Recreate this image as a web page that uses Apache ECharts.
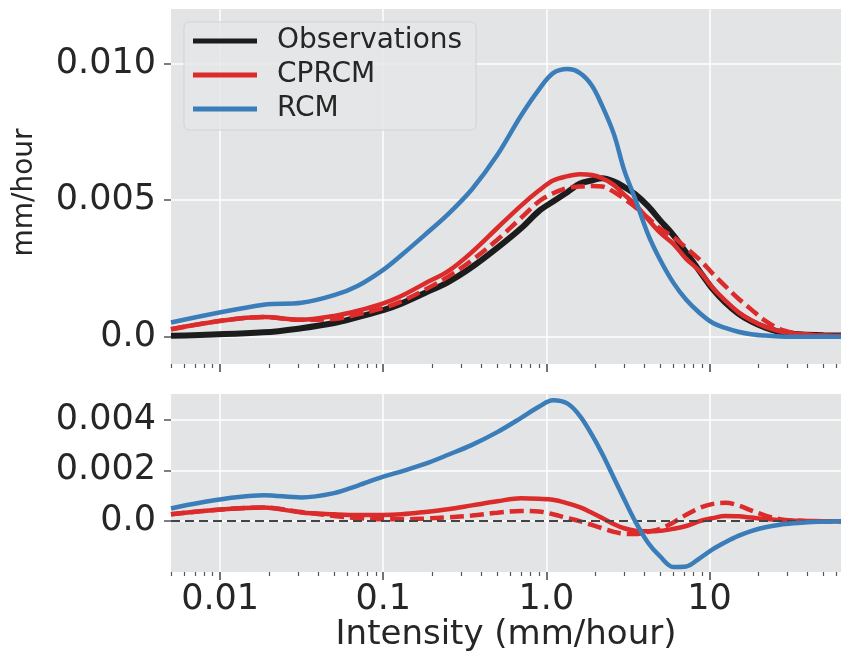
<!DOCTYPE html>
<html><head><meta charset="utf-8">
<script src="https://cdn.jsdelivr.net/npm/echarts@6/dist/echarts.min.js"></script>
<style>html,body{margin:0;padding:0;background:#fff}#c{width:841px;height:653px}</style>
</head><body><div id="c"></div>
<script>
// ---------- data ----------
const intensity = [0.005, 0.0185, 0.0315, 0.05, 0.07, 0.1, 0.13, 0.18, 0.25, 0.35, 0.5, 0.7, 0.9, 1.1, 1.35, 1.6, 1.9, 2.2, 2.6, 3.0, 3.5, 4.2, 5.0, 6.0, 7.2, 8.7, 10.5, 12.5, 15, 18, 22, 27, 33, 40, 50, 64];

// top panel (mm/hour)
const observations = [0.00003, 0.00016, 0.00031, 0.0005, 0.00072, 0.00097, 0.00122, 0.0016, 0.002, 0.00255, 0.00325, 0.00397, 0.0046, 0.00495, 0.0053, 0.0056, 0.00572, 0.0058, 0.00568, 0.00548, 0.00522, 0.00478, 0.00425, 0.00372, 0.00308, 0.0024, 0.00173, 0.00125, 0.00085, 0.00056, 0.00033, 0.00017, 0.0001, 0.00007, 0.00005, 0.00004];
const cprcm = [0.00027, 0.00072, 0.00062, 0.00076, 0.00095, 0.00122, 0.0015, 0.00195, 0.0024, 0.0031, 0.00398, 0.0048, 0.00535, 0.00572, 0.00588, 0.00595, 0.00592, 0.0058, 0.00555, 0.0052, 0.00485, 0.0043, 0.0038, 0.0034, 0.00285, 0.0024, 0.00178, 0.00132, 0.0009, 0.0006, 0.00036, 0.0002, 0.00012, 0.00007, 0.00004, 0.00003];
const cprcmAlt = [0.00027, 0.00072, 0.00062, 0.00065, 0.00082, 0.00105, 0.0013, 0.00172, 0.0022, 0.0028, 0.00355, 0.00435, 0.00495, 0.00525, 0.00545, 0.0055, 0.00552, 0.0055, 0.0053, 0.00505, 0.00475, 0.00435, 0.00395, 0.00365, 0.00325, 0.00282, 0.0023, 0.00185, 0.0014, 0.001, 0.00058, 0.00028, 0.00014, 0.00008, 0.00004, 0.00002];
const rcm = [0.00052, 0.00117, 0.00124, 0.00152, 0.00187, 0.00245, 0.003, 0.00373, 0.00449, 0.0054, 0.00665, 0.0081, 0.00905, 0.00965, 0.0098, 0.00966, 0.0092, 0.00845, 0.0074, 0.0061, 0.00505, 0.00375, 0.0028, 0.00198, 0.00135, 0.00087, 0.0005, 0.00032, 0.00018, 0.00009, 0.00004, 0.00001, 0, 0, 0, 0];

// bottom panel (difference to observations)
const rcmDiff = [0.0005, 0.00102, 0.00093, 0.0011, 0.0014, 0.00175, 0.00196, 0.00225, 0.00261, 0.003, 0.0035, 0.00406, 0.0045, 0.00475, 0.00462, 0.00415, 0.0034, 0.00265, 0.00169, 0.00086, 0, -0.00085, -0.0014, -0.0018, -0.00178, -0.00146, -0.0011, -0.00083, -0.00058, -0.00039, -0.00024, -0.00014, -0.00008, -0.00004, -0.00002, 0];
const cprcmDiff = [0.00027, 0.00054, 0.00034, 0.00027, 0.00024, 0.00024, 0.00027, 0.00036, 0.00047, 0.00062, 0.00078, 0.0009, 0.00088, 0.00084, 0.0007, 0.00055, 0.00033, 0.00012, -0.00012, -0.00028, -0.00038, -0.0004, -0.00038, -0.0003, -0.00019, 0, 0.00012, 0.0002, 0.00019, 0.00014, 0.00008, 0.00004, 0.00002, 0.00001, 0, 0];
const cprcmAltDiff = [0.00027, 0.00054, 0.00036, 0.0002, 0.00012, 0.00007, 0.00007, 0.0001, 0.00015, 0.00022, 0.00033, 0.0004, 0.00038, 0.00027, 0.00012, 0, -0.00015, -0.00028, -0.00042, -0.0005, -0.00051, -0.00042, -0.0003, -0.00005, 0.00025, 0.00052, 0.00068, 0.00072, 0.00062, 0.00042, 0.00022, 0.00008, 0.00002, 0, 0, 0];

// ticks
const xTicks = [0.01, 0.1, 1, 10];
const xTickLabels = ['0.01', '0.1', '1.0', '10'];
const xMinorTicks = [0.005, 0.006, 0.007, 0.008, 0.009, 0.02, 0.03, 0.04, 0.05, 0.06, 0.07, 0.08, 0.09, 0.2, 0.3, 0.4, 0.5, 0.6, 0.7, 0.8, 0.9, 2, 3, 4, 5, 6, 7, 8, 9, 20, 30, 40, 50, 60];
const topYTicks = [0, 0.005, 0.01];
const topYTickLabels = ['0.0', '0.005', '0.010'];
const botYTicks = [0, 0.002, 0.004];
const botYTickLabels = ['0.0', '0.002', '0.004'];

// ---------- chart ----------
const FONT = 'DejaVu Sans';
const TXT = '#262626';
const BG = '#e3e4e6';
const C_OBS = '#1c1c1c', C_CP = '#dc2b2b', C_RCM = '#3a7db8';
const HIDDEN_LINE = { show: true, onZero: false, lineStyle: { color: 'rgba(0,0,0,0)', width: 0 } };

function pairs(ys) { return intensity.map((x, i) => [x, ys[i]]); }
function lookup(ticks, labels, v, isLog) {
  for (let i = 0; i < ticks.length; i++) {
    if (isLog ? Math.abs(Math.log10(v) - Math.log10(ticks[i])) < 1e-6 : Math.abs(v - ticks[i]) < 1e-9) return labels[i];
  }
  return '';
}

function mainX(gi, withLabels) {
  return {
    type: 'log', logBase: 10, gridIndex: gi, min: 0.005, max: 64, position: 'bottom',
    axisLine: HIDDEN_LINE,
    axisTick: { show: true, customValues: xTicks, length: 8, lineStyle: { color: '#444', width: 1.5 } },
    axisLabel: {
      show: withLabels, customValues: xTicks,
      formatter: v => lookup(xTicks, xTickLabels, v, true),
      fontFamily: FONT, fontSize: 35, color: TXT, margin: 10
    },
    splitLine: { show: true, lineStyle: { color: '#ffffff', width: 1.5 } },
    name: withLabels ? 'Intensity (mm/hour)' : '',
    nameLocation: 'middle', nameGap: 43,
    nameTextStyle: { fontFamily: FONT, fontSize: 34, color: TXT }
  };
}
function minorX(gi) {
  return {
    type: 'log', logBase: 10, gridIndex: gi, min: 0.005, max: 64, position: 'bottom',
    axisLine: HIDDEN_LINE, axisLabel: { show: false }, splitLine: { show: false },
    axisTick: { show: true, customValues: xMinorTicks, length: 4, lineStyle: { color: '#555', width: 1.2 } }
  };
}
function yAx(gi, min, max, ticks, labels, name) {
  return {
    type: 'value', gridIndex: gi, min: min, max: max, position: 'left',
    axisLine: { show: true, onZero: false, lineStyle: { color: 'rgba(0,0,0,0)', width: 1 } },
    axisTick: { show: true, inside: false, customValues: ticks, length: 7, lineStyle: { color: '#555', width: 1.5 } },
    axisLabel: {
      customValues: ticks, formatter: v => lookup(ticks, labels, v, false),
      fontFamily: FONT, fontSize: 35, color: TXT, margin: 15
    },
    splitLine: { show: true, lineStyle: { color: '#ffffff', width: 1.5 } },
    name: name, nameLocation: 'middle', nameGap: 132,
    nameTextStyle: { fontFamily: FONT, fontSize: 28, color: TXT, padding: [0, 12, 0, 0] }
  };
}
function line(name, xi, yi, ys, color, width, dashed, z) {
  return {
    type: 'line', name: name, xAxisIndex: xi, yAxisIndex: yi, data: pairs(ys),
    symbol: 'none', showSymbol: false, smooth: 0.35,
    color: color, z: z,
    lineStyle: { color: color, width: width, type: dashed ? [14, 6] : 'solid' }
  };
}

const chart = echarts.init(document.getElementById('c'), null, { renderer: 'canvas' });
const rcmDiffSeries = line('RCM diff', 2, 1, rcmDiff, C_RCM, 4.5, false, 5);
rcmDiffSeries.markLine = {
  silent: true, symbol: 'none', label: { show: false },
  lineStyle: { color: '#444', width: 2, type: [9, 5] },
  data: [{ yAxis: 0 }]
};

chart.setOption({
  animation: false,
  backgroundColor: '#ffffff',
  grid: [
    { left: 171, top: 9, width: 670, height: 355, show: true, backgroundColor: BG, borderWidth: 0 },
    { left: 171, top: 394, width: 670, height: 178, show: true, backgroundColor: BG, borderWidth: 0 }
  ],
  xAxis: [mainX(0, false), minorX(0), mainX(1, true), minorX(1)],
  yAxis: [
    yAx(0, -0.001, 0.012, topYTicks, topYTickLabels, 'mm/hour'),
    yAx(1, -0.002, 0.005, botYTicks, botYTickLabels, '')
  ],
  legend: {
    left: 184, top: 22, orient: 'vertical',
    data: ['Observations', 'CPRCM', 'RCM'],
    icon: 'rect', itemWidth: 64, itemHeight: 5, itemGap: 6,
    padding: [5, 14, 7, 9],
    backgroundColor: 'rgba(229,230,232,0.85)', borderColor: '#d2d3d5', borderWidth: 1, borderRadius: 5,
    textStyle: { fontFamily: FONT, fontSize: 28, color: TXT, lineHeight: 28, padding: [0, 0, 0, 15] }
  },
  series: [
    line('Observations', 0, 0, observations, C_OBS, 6, false, 2),
    line('CPRCM', 0, 0, cprcm, C_CP, 4.5, false, 3),
    line('CPRCM alt', 0, 0, cprcmAlt, C_CP, 4.5, true, 3),
    line('RCM', 0, 0, rcm, C_RCM, 4.5, false, 4),
    line('CPRCM diff', 2, 1, cprcmDiff, C_CP, 4.5, false, 3),
    line('CPRCM alt diff', 2, 1, cprcmAltDiff, C_CP, 4.5, true, 3),
    rcmDiffSeries
  ]
});
</script>
</body></html>
